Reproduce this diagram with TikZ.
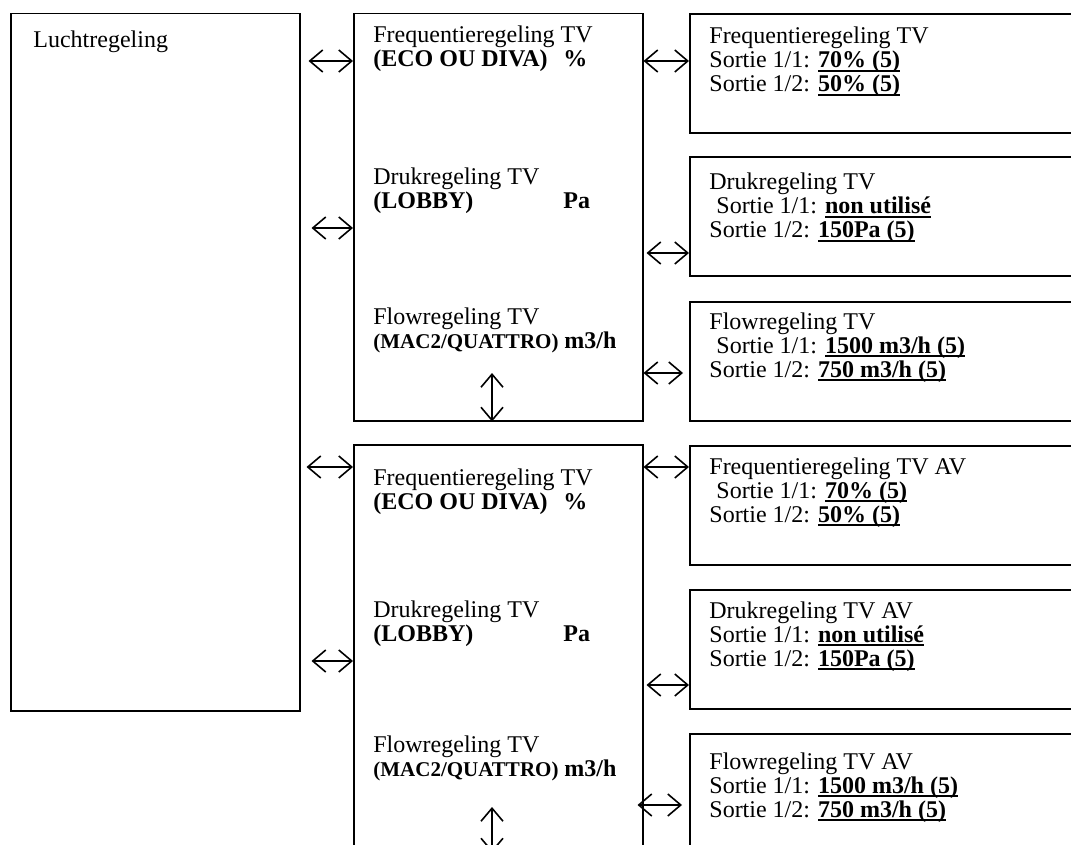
\documentclass[tikz,border=0pt]{standalone}
\usepackage{fontspec}
\setmainfont{Liberation Serif}
\usetikzlibrary{arrows.meta,calc}
\tikzset{
  panel/.style={draw, line width=0.75pt, anchor=north west, inner sep=0pt, minimum width=144.5pt, minimum height=203.5pt},
  outbox/.style={draw, line width=0.9pt, anchor=north west, inner sep=0pt, minimum width=200pt, minimum height=59.5pt},
  txt/.style={anchor=base west, inner sep=0pt, align=left, font=\fontsize{12}{12}\selectfont},
  dualarr/.style={{Straight Barb[length=6.5pt,width=11pt]}-{Straight Barb[length=6.5pt,width=11pt]}, line width=0.8pt},
}
\newsavebox\uvalbox
\newcommand{\uval}[1]{\sbox\uvalbox{\bfseries #1}\leavevmode\rlap{\rule[-2pt]{\wd\uvalbox}{0.8pt}}\usebox\uvalbox}
\newcommand{\tabto}[2]{\makebox[95pt][l]{\textbf{#1}}\textbf{#2}}

\begin{document}
\begin{tikzpicture}[x=0.5pt,y=-0.5pt]
    \useasboundingbox (0,0) rectangle (1071,845);
    \clip (0,0) rectangle (1071,845);
    \node[panel, minimum height=348.5pt] (lucht) at (10,13) {};
    \node[panel] (reg1) at (353,13) {};
    \node[panel] (reg2) at (353,444) {};
    \node[outbox] (out1) at (689,13) {};
    \node[outbox] (out2) at (689,156) {};
    \node[outbox] (out3) at (689,301) {};
    \node[outbox] (out4) at (689,445) {};
    \node[outbox] (out5) at (689,589) {};
    \node[outbox] (out6) at (689,733) {};

    % base = last line
    \node[txt] (luchtt) at (33,48) {Luchtregeling};
    \node[txt] (fr1) at (373,67) {Frequentieregeling TV\\ \tabto{(ECO OU DIVA)}{\%}};
    \node[txt] (dr1) at (373,209) {Drukregeling TV\\ \tabto{(LOBBY)}{Pa}};
    \node[txt] (fl1) at (373,349) {Flowregeling TV\\ {\fontsize{10.5}{12}\selectfont\textbf{(MAC2/QUATTRO)}} \textbf{m3/h}};
    \node[txt] (fr2) at (373,509) {Frequentieregeling TV\\ \tabto{(ECO OU DIVA)}{\%}};
    \node[txt] (dr2) at (373,641) {Drukregeling TV\\ \tabto{(LOBBY)}{Pa}};
    \node[txt] (fl2) at (373,776) {Flowregeling TV\\ {\fontsize{10.5}{12}\selectfont\textbf{(MAC2/QUATTRO)}} \textbf{m3/h}};

    \node[txt] (o1t) at (709,92) {Frequentieregeling TV\\Sortie 1/1: \uval{70\% (5)}\\Sortie 1/2: \uval{50\% (5)}};
    \node[txt] (o2t) at (709,238) {Drukregeling TV\\\hspace*{3.5pt}Sortie 1/1: \uval{non utilisé}\\Sortie 1/2: \uval{150Pa (5)}};
    \node[txt] (o3t) at (709,377) {Flowregeling TV\\\hspace*{3.5pt}Sortie 1/1: \uval{1500 m3/h (5)}\\Sortie 1/2: \uval{750 m3/h (5)}};
    \node[txt] (o4t) at (709,522) {Frequentieregeling TV AV\\\hspace*{3.5pt}Sortie 1/1: \uval{70\% (5)}\\Sortie 1/2: \uval{50\% (5)}};
    \node[txt] (o5t) at (709,666) {Drukregeling TV AV\\Sortie 1/1: \uval{non utilisé}\\Sortie 1/2: \uval{150Pa (5)}};
    \node[txt] (o6t) at (709,817) {Flowregeling TV AV\\Sortie 1/1: \uval{1500 m3/h (5)}\\Sortie 1/2: \uval{750 m3/h (5)}};

    \coordinate (v1) at (492,373);
    \coordinate (v2) at (492,807);

    \draw[dualarr] ($(lucht.east |- 0,61)+(8,0)$) -- (reg1.west |- 0,61);
    \draw[dualarr] (reg1.east |- 0,61) -- (out1.west |- 0,61);
    \draw[dualarr] ($(lucht.east |- 0,228)+(11,0)$) -- (reg1.west |- 0,228);
    \draw[dualarr] ($(reg1.east |- 0,253)+(3,0)$) -- (out2.west |- 0,253);
    \draw[dualarr] (reg1.east |- 0,373) -- ($(out3.west |- 0,373)+(-6,0)$);
    \draw[dualarr] (v1) -- (v1 |- reg1.south);
    \draw[dualarr] ($(lucht.east |- 0,467)+(6,0)$) -- (reg2.west |- 0,467);
    \draw[dualarr] (reg2.east |- 0,467) -- (out4.west |- 0,467);
    \draw[dualarr] ($(lucht.east |- 0,661)+(11,0)$) -- (reg2.west |- 0,661);
    \draw[dualarr] ($(reg2.east |- 0,685)+(3,0)$) -- (out5.west |- 0,685);
    \draw[dualarr] ($(reg2.east |- 0,805)+(-6,0)$) -- ($(out6.west |- 0,805)+(-7,0)$);
    \draw[dualarr] (v2) -- (v2 |- reg2.south);
\end{tikzpicture}
\end{document}
